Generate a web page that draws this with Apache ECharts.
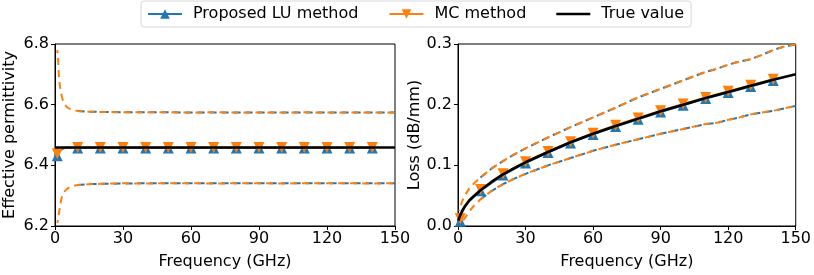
<!DOCTYPE html>
<html>
<head>
<meta charset="utf-8">
<script src="https://cdn.jsdelivr.net/npm/echarts@6/dist/echarts.min.js"></script>
<style>html,body{margin:0;padding:0;background:#fff}#c{width:814px;height:275px}</style>
</head>
<body>
<div id="c"></div>
<script>
// ---------- data ----------
const legendNames = ['Proposed LU method', 'MC method', 'True value'];
const markerFreqs = [1, 10, 20, 30, 40, 50, 60, 70, 80, 90, 100, 110, 120, 130, 140];
const xTicks = [0, 30, 60, 90, 120, 150];

// Left panel: effective permittivity
const epsFreqMC = [1, 1.3, 1.6, 2, 2.5, 3, 3.5, 4, 5, 6, 8, 10, 15, 20, 30, 40, 50, 60, 70, 80, 90, 100, 110, 120, 130, 140, 150];
const epsUpperMC = [6.78, 6.76, 6.71, 6.67, 6.645, 6.628, 6.614, 6.604, 6.594, 6.588, 6.582, 6.579, 6.577, 6.576, 6.575, 6.575, 6.575, 6.574, 6.575, 6.574, 6.574, 6.574, 6.575, 6.574, 6.574, 6.574, 6.574];
const epsLowerMC = [6.21, 6.22, 6.235, 6.255, 6.278, 6.294, 6.304, 6.312, 6.32, 6.326, 6.332, 6.335, 6.338, 6.339, 6.341, 6.340, 6.341, 6.341, 6.340, 6.341, 6.341, 6.340, 6.341, 6.341, 6.341, 6.340, 6.341];
const epsFreqLU = [10, 15, 20, 30, 40, 50, 60, 70, 80, 90, 100, 110, 120, 130, 140, 150];
const epsUpperLU = [6.579, 6.577, 6.576, 6.575, 6.575, 6.575, 6.574, 6.574, 6.574, 6.574, 6.574, 6.574, 6.574, 6.574, 6.574, 6.574];
const epsLowerLU = [6.335, 6.338, 6.339, 6.340, 6.341, 6.341, 6.341, 6.341, 6.341, 6.341, 6.341, 6.341, 6.341, 6.341, 6.341, 6.341];
const epsFreqMean = [1, 2, 3, 4, 5, 10, 20, 30, 40, 50, 60, 70, 80, 90, 100, 110, 120, 130, 140];
const epsMeanLU = [6.432, 6.447, 6.453, 6.456, 6.457, 6.457, 6.457, 6.457, 6.457, 6.457, 6.457, 6.457, 6.457, 6.457, 6.457, 6.457, 6.457, 6.457, 6.457];
const epsMeanMC = [6.438, 6.450, 6.455, 6.457, 6.458, 6.459, 6.459, 6.459, 6.459, 6.459, 6.459, 6.459, 6.459, 6.459, 6.459, 6.459, 6.459, 6.459, 6.459];
const epsTrueFreq = [0, 150];
const epsTrue = [6.459, 6.459];

// Right panel: loss (dB/mm)
const lossFreq = [0.5, 1, 2, 3, 5, 7, 10, 15, 20, 25, 30, 40, 50, 60, 70, 80, 90, 100, 110, 115, 120, 125, 130, 135, 140, 145, 150];
const lossUpperMC = [0.025, 0.032, 0.042, 0.050, 0.062, 0.070, 0.080, 0.095, 0.107, 0.118, 0.128, 0.146, 0.163, 0.179, 0.195, 0.212, 0.226, 0.240, 0.254, 0.259, 0.266, 0.271, 0.275, 0.282, 0.290, 0.296, 0.299];
const lossLowerMC = [0.002, 0.004, 0.008, 0.013, 0.024, 0.033, 0.044, 0.058, 0.069, 0.078, 0.086, 0.100, 0.112, 0.124, 0.134, 0.143, 0.152, 0.160, 0.168, 0.170, 0.175, 0.179, 0.184, 0.187, 0.190, 0.194, 0.198];
const lossFreqLU = [10, 15, 20, 25, 30, 40, 50, 60, 70, 80, 90, 100, 110, 115, 120, 125, 130, 135, 140, 145, 150];
const lossUpperLU = [0.080, 0.095, 0.107, 0.118, 0.128, 0.146, 0.163, 0.179, 0.195, 0.212, 0.226, 0.240, 0.254, 0.259, 0.266, 0.271, 0.275, 0.282, 0.290, 0.296, 0.299];
const lossLowerLU = [0.044, 0.058, 0.069, 0.078, 0.086, 0.100, 0.112, 0.124, 0.134, 0.143, 0.152, 0.160, 0.168, 0.170, 0.175, 0.179, 0.184, 0.187, 0.190, 0.194, 0.198];
const lossFreqMean = [1, 2, 3, 5, 10, 20, 30, 40, 50, 60, 70, 80, 90, 100, 110, 120, 130, 140];
const lossMeanLU = [0.008, 0.024, 0.031, 0.041, 0.058, 0.084, 0.104, 0.121, 0.137, 0.151, 0.164, 0.176, 0.188, 0.199, 0.210, 0.220, 0.230, 0.240];
const lossMeanMC = [0.012, 0.026, 0.033, 0.043, 0.060, 0.086, 0.106, 0.123, 0.139, 0.153, 0.166, 0.178, 0.190, 0.201, 0.212, 0.222, 0.232, 0.242];
const lossTrueFreq = [0.2, 0.5, 1, 2, 3, 5, 7, 10, 15, 20, 25, 30, 40, 50, 60, 70, 80, 90, 100, 110, 120, 130, 140, 150];
const lossTrue = [0.009, 0.013, 0.018, 0.026, 0.032, 0.042, 0.049, 0.059, 0.073, 0.085, 0.0955, 0.105, 0.122, 0.138, 0.152, 0.165, 0.177, 0.189, 0.200, 0.211, 0.221, 0.231, 0.241, 0.250];

// ---------- build ----------
const BLUE = '#1f77b4', ORANGE = '#ff7f0e';
const FONT = 'DejaVu Sans';
const FS = 16;
const zip = (xs, ys) => xs.map((x, i) => [x, ys[i]]);
const markData = (xs, ys) => xs.map((x, i) => markerFreqs.includes(x) ? { value: [x, ys[i]] } : { value: [x, ys[i]], symbol: 'none' });

function dashed(name, idx, xs, ys, color, offset, z) {
  return {
    name, type: 'line', xAxisIndex: idx, yAxisIndex: idx, data: zip(xs, ys),
    symbol: 'none', silent: true, z,
    lineStyle: { color, width: 2, type: [7, 5], dashOffset: offset }
  };
}
function mean(name, idx, xs, ys, color, rotate, z) {
  return {
    name, type: 'line', xAxisIndex: idx, yAxisIndex: idx, data: markData(xs, ys),
    symbol: 'triangle', symbolSize: 11, symbolRotate: rotate, showAllSymbol: true, z,
    itemStyle: { color }, lineStyle: { color, width: 2 }
  };
}
function truth(idx, xs, ys) {
  return {
    name: 'True value', type: 'line', xAxisIndex: idx, yAxisIndex: idx, data: zip(xs, ys),
    symbol: 'none', z: 6, lineStyle: { color: '#000', width: 2.6 }, itemStyle: { color: '#000' }
  };
}

const axisCommon = {
  axisLine: { show: true, onZero: false, lineStyle: { color: '#000', width: 1 } },
  axisTick: { show: true, length: 4, lineStyle: { color: '#000' } },
  splitLine: { show: false },
  axisLabel: { color: '#000', fontFamily: FONT, fontSize: FS },
  nameTextStyle: { color: '#000', fontFamily: FONT, fontSize: FS }
};
function xAx(idx) {
  return Object.assign({}, axisCommon, {
    type: 'value', gridIndex: idx, min: 0, max: 150, interval: 30,
    name: 'Frequency (GHz)', nameLocation: 'middle', nameGap: 28,
    axisLabel: Object.assign({}, axisCommon.axisLabel, { margin: 5 })
  });
}
function yAx(idx, min, max, name, gap) {
  return Object.assign({}, axisCommon, {
    type: 'value', gridIndex: idx, min, max, interval: 0.1 * (idx === 0 ? 2 : 1),
    name, nameLocation: 'middle', nameGap: gap,
    axisLabel: Object.assign({}, axisCommon.axisLabel, { margin: 6, formatter: v => v.toFixed(1) })
  });
}

const option = {
  animation: false,
  textStyle: { fontFamily: FONT },
  legend: {
    data: [
      { name: legendNames[0] },
      { name: legendNames[1] },
      { name: legendNames[2], icon: 'path://M0,0 L34,0 L34,2.6 L0,2.6 Z' }
    ],
    left: 141, top: 1, padding: [5, 7, 5, 6], itemGap: 30,
    itemWidth: 34, itemHeight: 12,
    borderColor: '#d8d8d8', borderWidth: 1, borderRadius: 3,
    textStyle: { color: '#000', fontFamily: FONT, fontSize: FS, padding: [0, 0, 0, 6] },
    selectedMode: false
  },
  grid: [
    { left: 55, right: 419, top: 44, bottom: 46, show: true, borderColor: '#000', borderWidth: 1, backgroundColor: 'transparent' },
    { left: 458, right: 15, top: 44, bottom: 46, show: true, borderColor: '#000', borderWidth: 1, backgroundColor: 'transparent' }
  ],
  xAxis: [xAx(0), xAx(1)],
  yAxis: [yAx(0, 6.2, 6.8, 'Effective permittivity', 37), yAx(1, 0, 0.3, 'Loss (dB/mm)', 32)],
  series: [
    dashed('LU upper', 0, epsFreqLU, epsUpperLU, BLUE, 0, 2),
    dashed('LU lower', 0, epsFreqLU, epsLowerLU, BLUE, 0, 2),
    dashed('MC upper', 0, epsFreqMC, epsUpperMC, ORANGE, 4, 3),
    dashed('MC lower', 0, epsFreqMC, epsLowerMC, ORANGE, 4, 3),
    mean('Proposed LU method', 0, epsFreqMean, epsMeanLU, BLUE, 0, 4),
    mean('MC method', 0, epsFreqMean, epsMeanMC, ORANGE, 180, 5),
    truth(0, epsTrueFreq, epsTrue),

    dashed('LU upper r', 1, lossFreqLU, lossUpperLU, BLUE, 0, 2),
    dashed('LU lower r', 1, lossFreqLU, lossLowerLU, BLUE, 0, 2),
    dashed('MC upper r', 1, lossFreq, lossUpperMC, ORANGE, 6, 3),
    dashed('MC lower r', 1, lossFreq, lossLowerMC, ORANGE, 6, 3),
    mean('Proposed LU method', 1, lossFreqMean, lossMeanLU, BLUE, 0, 4),
    mean('MC method', 1, lossFreqMean, lossMeanMC, ORANGE, 180, 5),
    truth(1, lossTrueFreq, lossTrue)
  ]
};
const chart = echarts.init(document.getElementById('c'), null, { renderer: 'canvas' });
chart.setOption(option);
</script>
</body>
</html>
